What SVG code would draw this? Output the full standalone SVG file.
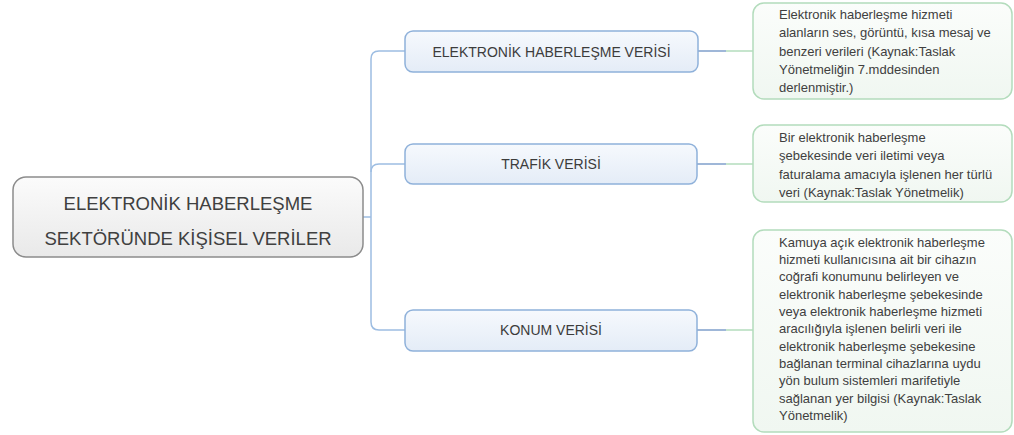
<svg xmlns="http://www.w3.org/2000/svg" width="1014" height="435" viewBox="0 0 1014 435">
<defs>
<linearGradient id="gRoot" x1="0" y1="0" x2="0" y2="1"><stop offset="0" stop-color="#fbfbfb"/><stop offset="1" stop-color="#e9e9e9"/></linearGradient>
<linearGradient id="gBlue" x1="0" y1="0" x2="0" y2="1"><stop offset="0" stop-color="#f6f9fd"/><stop offset="1" stop-color="#e4ecf7"/></linearGradient>
<linearGradient id="gGreen" x1="0" y1="0" x2="0" y2="1"><stop offset="0" stop-color="#fbfdfb"/><stop offset="1" stop-color="#f0f7f1"/></linearGradient>
</defs>
<style>
.root{fill:url(#gRoot);stroke:#8c8c8c;stroke-width:1.5}
.blue{fill:url(#gBlue);stroke:#8fb1da;stroke-width:1.5}
.green{fill:url(#gGreen);stroke:#b3dcbc;stroke-width:1.5}
.rt{font-family:"Liberation Sans",Arial,sans-serif;font-size:18.5px;fill:#404040;text-anchor:middle}
.bt{font-family:"Liberation Sans",Arial,sans-serif;font-size:14px;fill:#3c3c3c;text-anchor:middle}
.gt{font-family:"Liberation Sans",Arial,sans-serif;font-size:13px;fill:#404040}
.c{fill:none;stroke:#9dbde2;stroke-width:1.5}
.cb{fill:none;stroke:#7f9fcb;stroke-width:1.5}
.cg{fill:none;stroke:#b3dcbc;stroke-width:1.5}
</style>
<g id="connectors">
<path class="c" d="M363 217 H371"/>
<path class="c" d="M405 51 H379 Q371 51 371 59 V322 Q371 330 379 330 H405"/>
<path class="c" d="M371 172 Q371 164 379 164 H405"/>
<path class="cb" d="M698 51 H726"/>
<path class="cg" d="M726 51 H753"/>
<path class="cb" d="M697 164 H726"/>
<path class="cg" d="M726 164 H753"/>
<path class="cb" d="M697 330 H726"/>
<path class="cg" d="M726 330 H753"/>
</g>
<g id="root">
<rect class="root" x="13" y="177" width="350" height="80" rx="13"/>
<text class="rt" x="188" y="210">ELEKTRONİK HABERLEŞME</text>
<text class="rt" x="188" y="245">SEKTÖRÜNDE KİŞİSEL VERİLER</text>
</g>
<g id="n1">
<rect class="blue" x="405" y="31" width="293" height="41" rx="8"/>
<text class="bt" x="551.5" y="56.5">ELEKTRONİK HABERLEŞME VERİSİ</text>
</g>
<g id="n2">
<rect class="blue" x="405" y="144" width="292" height="40" rx="8"/>
<text class="bt" x="551" y="169">TRAFİK VERİSİ</text>
</g>
<g id="n3">
<rect class="blue" x="405" y="310" width="292" height="41" rx="8"/>
<text class="bt" x="551" y="335">KONUM VERİSİ</text>
</g>
<g id="d1">
<rect class="green" x="753" y="3" width="259" height="96" rx="11"/>
<text class="gt" x="779" y="19">Elektronik haberleşme hizmeti</text>
<text class="gt" x="779" y="37.3">alanların ses, görüntü, kısa mesaj ve</text>
<text class="gt" x="779" y="55.6">benzeri verileri (Kaynak:Taslak</text>
<text class="gt" x="779" y="74">Yönetmeliğin 7.mddesinden</text>
<text class="gt" x="779" y="92.3">derlenmiştir.)</text>
</g>
<g id="d2">
<rect class="green" x="753" y="125" width="259" height="77" rx="11"/>
<text class="gt" x="779" y="142">Bir elektronik haberleşme</text>
<text class="gt" x="779" y="160.3">şebekesinde veri iletimi veya</text>
<text class="gt" x="779" y="178.6">faturalama amacıyla işlenen her türlü</text>
<text class="gt" x="779" y="197">veri (Kaynak:Taslak Yönetmelik)</text>
</g>
<g id="d3">
<rect class="green" x="753" y="230" width="259" height="202" rx="11"/>
<text class="gt" x="779" y="246.5">Kamuya açık elektronik haberleşme</text>
<text class="gt" x="779" y="263.9">hizmeti kullanıcısına ait bir cihazın</text>
<text class="gt" x="779" y="281.2">coğrafi konumunu belirleyen ve</text>
<text class="gt" x="779" y="298.6">elektronik haberleşme şebekesinde</text>
<text class="gt" x="779" y="315.9">veya elektronik haberleşme hizmeti</text>
<text class="gt" x="779" y="333.3">aracılığıyla işlenen belirli veri ile</text>
<text class="gt" x="779" y="350.6">elektronik haberleşme şebekesine</text>
<text class="gt" x="779" y="368">bağlanan terminal cihazlarına uydu</text>
<text class="gt" x="779" y="385.3">yön bulum sistemleri marifetiyle</text>
<text class="gt" x="779" y="402.7">sağlanan yer bilgisi (Kaynak:Taslak</text>
<text class="gt" x="779" y="420">Yönetmelik)</text>
</g>
</svg>
